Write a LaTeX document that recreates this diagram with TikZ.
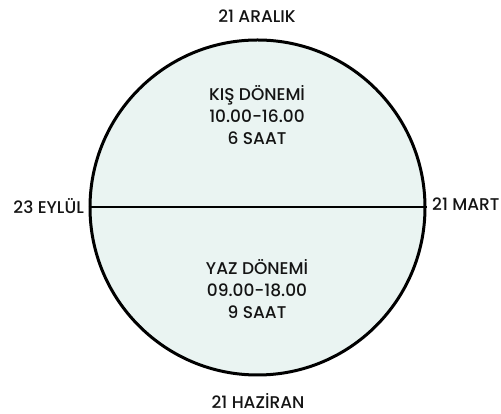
\documentclass[tikz,border=0pt]{standalone}
\usepackage{fontspec}
\setmainfont{Poppins}[BoldFont={* Medium}]
\usetikzlibrary{positioning}
\definecolor{GlobeFill}{RGB}{234,244,242}
\definecolor{InkBlack}{RGB}{20,20,20}
\tikzset{
	globe/.style={circle,draw=black,fill=GlobeFill,line width=3pt,inner sep=0pt,minimum size=335pt},
	equator/.style={draw=black,line width=2pt},
	datelbl/.style={text=InkBlack,font=\fontsize{17}{18}\selectfont\bfseries,inner sep=0pt},
	season/.style={text=InkBlack,font=\fontsize{17}{22}\selectfont\bfseries,align=center,inner sep=0pt},
}
\begin{document}
\begin{tikzpicture}[x=1pt,y=1pt]
			\useasboundingbox (0,0) rectangle (501,414);
			\node[globe] (g) at (257.5,206.5) {};
			\draw[equator] (g.west)--(g.east);
			\node[datelbl] (dec) at (257,398) {21 ARALIK};
			\node[datelbl] (jun) at (258,13) {21 HAZİRAN};
			\node[datelbl,anchor=east] (sep) at (84,208) {23 EYLÜL};
			\node[datelbl,anchor=west] (mar) at (432,210) {21 MART};
			\node[season] (win) at (257,299) {KIŞ DÖNEMİ\\10.00-16.00\\6 SAAT};
			\node[season] (sum) at (257,125) {YAZ DÖNEMİ\\09.00-18.00\\9 SAAT};
		\end{tikzpicture}
\end{document}
